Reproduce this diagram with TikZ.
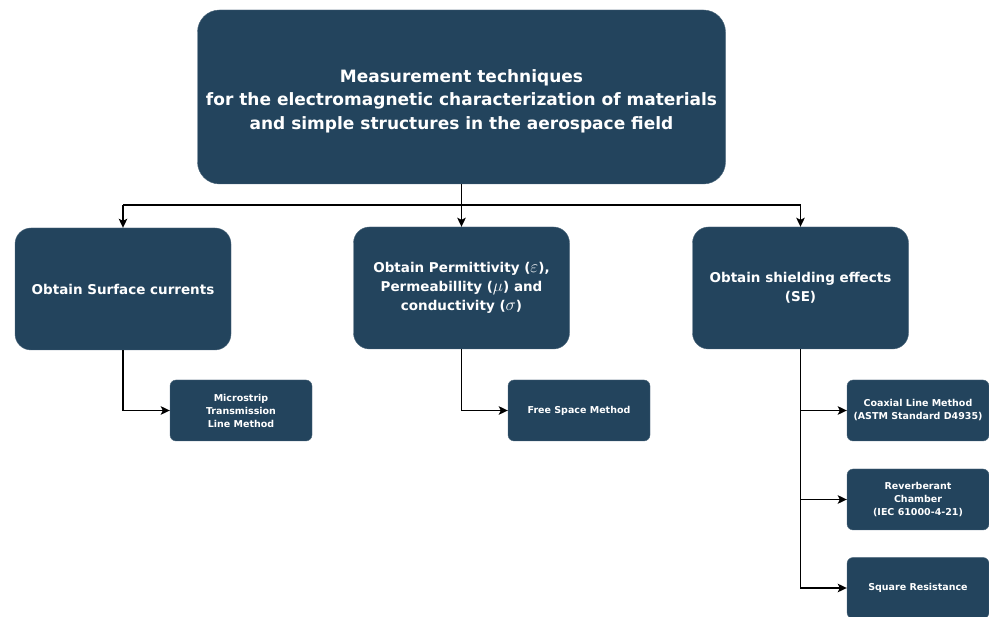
\documentclass[tikz,border=0pt]{standalone}
\usepackage{fontspec}
\setmainfont{DejaVu Sans}
\usetikzlibrary{arrows.meta}
\definecolor{boxblue}{HTML}{23445D}
\newcommand{\grk}[1]{{\fontsize{17.5}{19}\selectfont$#1$}}
\tikzset{
  x=1pt,y=-1pt,
  box/.style={draw=boxblue!80!white,fill=boxblue,text=white,rounded corners=#1,align=center,inner sep=0pt,font=\bfseries},
  conn/.style={draw=black,line width=1.3pt,-{Stealth[length=9pt,width=8.5pt,inset=2pt]}},
  plain/.style={draw=black,line width=1.3pt}
}
\begin{document}
\begin{tikzpicture}
\useasboundingbox (0,0) rectangle (989,617);
\node[box=22pt,minimum width=528pt,minimum height=174pt,font=\bfseries\fontsize{17}{23.5}\selectfont] (main) at (461.5,97)
  {\raisebox{-4pt}[\height][\depth]{\begin{tabular}{@{}c@{}}Measurement techniques\\ for the electromagnetic characterization of materials\\ and simple structures in the aerospace field\end{tabular}}};
\node[box=16pt,minimum width=216pt,minimum height=122pt,font=\bfseries\fontsize{13.5}{19}\selectfont] (b1) at (123,289) {Obtain Surface currents};
\node[box=16pt,minimum width=216pt,minimum height=122pt,font=\bfseries\fontsize{13.5}{19}\selectfont] (b2) at (461.5,288) {Obtain Permittivity (\grk{\varepsilon}),\\ Permeabillity (\grk{\mu}) and\\ conductivity (\grk{\sigma})};
\node[box=16pt,minimum width=216pt,minimum height=122pt,font=\bfseries\fontsize{13.5}{19}\selectfont] (b3) at (800.5,288) {Obtain shielding effects\\ (SE)};
\node[box=6pt,minimum width=142pt,minimum height=61pt,font=\bfseries\fontsize{9.5}{13}\selectfont] (s1) at (241,410.5) {Microstrip\\ Transmission\\ Line Method};
\node[box=6pt,minimum width=142pt,minimum height=61pt,font=\bfseries\fontsize{9.5}{13}\selectfont] (s2) at (579,410.5) {Free Space Method};
\node[box=6pt,minimum width=142pt,minimum height=61pt,font=\bfseries\fontsize{9.5}{13}\selectfont] (s3) at (918,410.5) {Coaxial Line Method\\ (ASTM Standard D4935)};
\node[box=6pt,minimum width=142pt,minimum height=61pt,font=\bfseries\fontsize{9.5}{13}\selectfont] (s4) at (918,499.5) {Reverberant\\ Chamber\\ (IEC 61000-4-21)};
\node[box=6pt,minimum width=142pt,minimum height=61pt,font=\bfseries\fontsize{9.5}{13}\selectfont] (s5) at (918,588) {Square Resistance};
\coordinate (hub) at (461.5,205);
\coordinate (hl) at (123,205);
\coordinate (hr) at (800.5,205);
\draw[plain] (main.south) -- (hub);
\draw[plain] (hl) -- (hr);
\draw[conn] (hl) -- (b1.north);
\draw[conn] (hub) -- (b2.north);
\draw[conn] (hr) -- (b3.north);
\draw[conn] (b1.south) |- (s1.west);
\draw[conn] (b2.south) |- (s2.west);
\draw[conn] (b3.south) |- (s3.west);
\draw[conn] (b3.south) |- (s4.west);
\draw[conn] (b3.south) |- (s5.west);
\end{tikzpicture}
\end{document}
